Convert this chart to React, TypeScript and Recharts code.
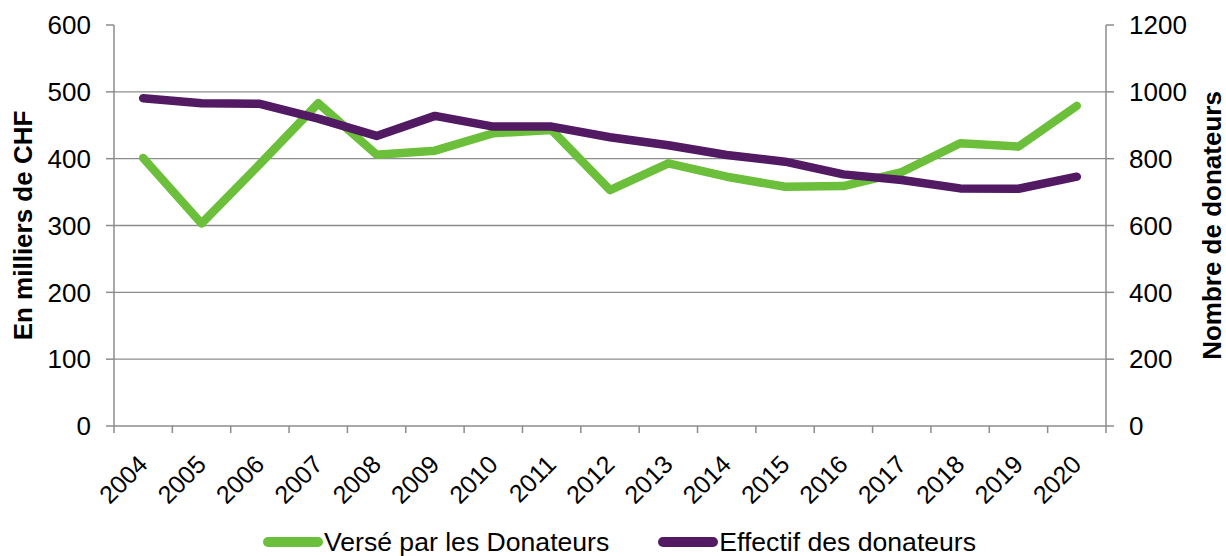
import React from "react";
import {
  LineChart,
  Line,
  XAxis,
  YAxis,
  CartesianGrid,
  Legend,
} from "recharts";

const years = [
  "2004", "2005", "2006", "2007", "2008", "2009", "2010", "2011", "2012",
  "2013", "2014", "2015", "2016", "2017", "2018", "2019", "2020",
];
// en milliers de CHF (axe gauche)
const verse = [401, 303, 392, 483, 406, 412, 438, 443, 353, 393, 373, 358, 359, 380, 423, 418, 479];
// nombre de donateurs (axe droit)
const effectif = [981, 966, 964, 920, 868, 928, 896, 896, 864, 840, 811, 791, 753, 736, 711, 710, 746];

const seriesNames = ["Versé par les Donateurs", "Effectif des donateurs"];

const leftTicks = [0, 100, 200, 300, 400, 500, 600];
const rightTicks = [0, 200, 400, 600, 800, 1000, 1200];
const gridValues = [100, 200, 300, 400, 500];

const FONT = "'Liberation Sans', Arial, sans-serif";
const GREEN = "#6cbf3a";
const PURPLE = "#511a62";
const AXIS = "#8c8c8c";

const data = years.map((year, i) => ({
  pos: i + 0.5,
  year,
  verse: verse[i],
  effectif: effectif[i],
}));

const bandTicks = years.map((_, i) => i).concat(years.length);
const labelTicks = years.map((_, i) => i + 0.5);

const EmptyTick = () => <g />;

const YearTick = (props: any) => {
  const { x, y, payload } = props;
  const label = years[Math.floor(payload.value)];
  const ax = x + 6;
  const ay = y + 32;
  return (
    <text
      x={ax}
      y={ay}
      textAnchor="end"
      transform={`rotate(-45 ${ax} ${ay})`}
      fontSize={25}
      fontFamily={FONT}
      fill="#000"
    >
      {label}
    </text>
  );
};

const axisTitle = (text: string, dx: number) => (props: any) => {
  const { viewBox } = props;
  const cx = viewBox.x + dx;
  const cy = viewBox.y + viewBox.height / 2;
  return (
    <text
      x={cx}
      y={cy}
      transform={`rotate(-90 ${cx} ${cy})`}
      textAnchor="middle"
      dominantBaseline="central"
      fontSize={26}
      fontWeight="bold"
      fontFamily={FONT}
      fill="#000"
    >
      {text}
    </text>
  );
};

const renderLegend = (props: any) => {
  const payload = [...(props.payload || [])].sort(
    (a: any, b: any) => seriesNames.indexOf(a.value) - seriesNames.indexOf(b.value)
  );
  return (
    <div
      style={{
        display: "flex",
        justifyContent: "center",
        alignItems: "center",
        height: 30,
        marginTop: 1,
        paddingLeft: 13,
        fontFamily: FONT,
        fontSize: 26.6,
        lineHeight: "30px",
        color: "#000",
      }}
    >
      {payload.map((entry: any, i: number) => (
        <span
          key={entry.value}
          style={{ display: "flex", alignItems: "center", marginRight: i === payload.length - 1 ? 0 : 49 }}
        >
          <span
            style={{
              display: "inline-block",
              width: 60,
              height: 10,
              borderRadius: 5,
              background: entry.color,
              marginRight: 1,
            }}
          />
          {entry.value}
        </span>
      ))}
    </div>
  );
};

export default function App() {
  return (
    <div style={{ position: "absolute", left: 0, top: 0, width: 1226, height: 556, background: "#fff" }}>
      <LineChart
        width={1226}
        height={556}
        data={data}
        margin={{ top: 25, right: 0, left: 0, bottom: 0 }}
        style={{ fontFamily: FONT }}
      >
        <CartesianGrid
          xAxisId="grid"
          yAxisId="l"
          vertical={false}
          horizontalValues={gridValues}
          stroke={AXIS}
          strokeWidth={1.3}
        />
        <XAxis
          xAxisId="grid"
          dataKey="pos"
          type="number"
          domain={[0, years.length]}
          ticks={bandTicks}
          interval={0}
          tick={<EmptyTick />}
          tickSize={7}
          height={8}
          stroke={AXIS}
          strokeWidth={1.5}
        />
        <XAxis
          xAxisId="labels"
          dataKey="pos"
          type="number"
          domain={[0, years.length]}
          ticks={labelTicks}
          interval={0}
          axisLine={false}
          tickLine={false}
          tickSize={0}
          tickMargin={0}
          height={92}
          tick={<YearTick />}
        />
        <YAxis
          yAxisId="l"
          domain={[0, 600]}
          ticks={leftTicks}
          width={114}
          tickSize={8}
          tickMargin={15}
          stroke={AXIS}
          strokeWidth={1.5}
          tick={{ fill: "#000", fontSize: 26, fontFamily: FONT }}
          label={{ content: axisTitle("En milliers de CHF", 23) }}
        />
        <YAxis
          yAxisId="r"
          orientation="right"
          domain={[0, 1200]}
          ticks={rightTicks}
          width={120}
          tickSize={8}
          tickMargin={15}
          stroke={AXIS}
          strokeWidth={1.5}
          tick={{ fill: "#000", fontSize: 26, fontFamily: FONT }}
          label={{ content: axisTitle("Nombre de donateurs", 106) }}
        />
        <Line
          xAxisId="grid"
          yAxisId="l"
          dataKey="verse"
          name={seriesNames[0]}
          stroke={GREEN}
          strokeWidth={8.5}
          strokeLinecap="round"
          strokeLinejoin="round"
          dot={false}
          activeDot={false}
          isAnimationActive={false}
        />
        <Line
          xAxisId="grid"
          yAxisId="r"
          dataKey="effectif"
          name={seriesNames[1]}
          stroke={PURPLE}
          strokeWidth={8.5}
          strokeLinecap="round"
          strokeLinejoin="round"
          dot={false}
          activeDot={false}
          isAnimationActive={false}
        />
        <Legend verticalAlign="bottom" height={30} content={renderLegend} />
      </LineChart>
    </div>
  );
}
